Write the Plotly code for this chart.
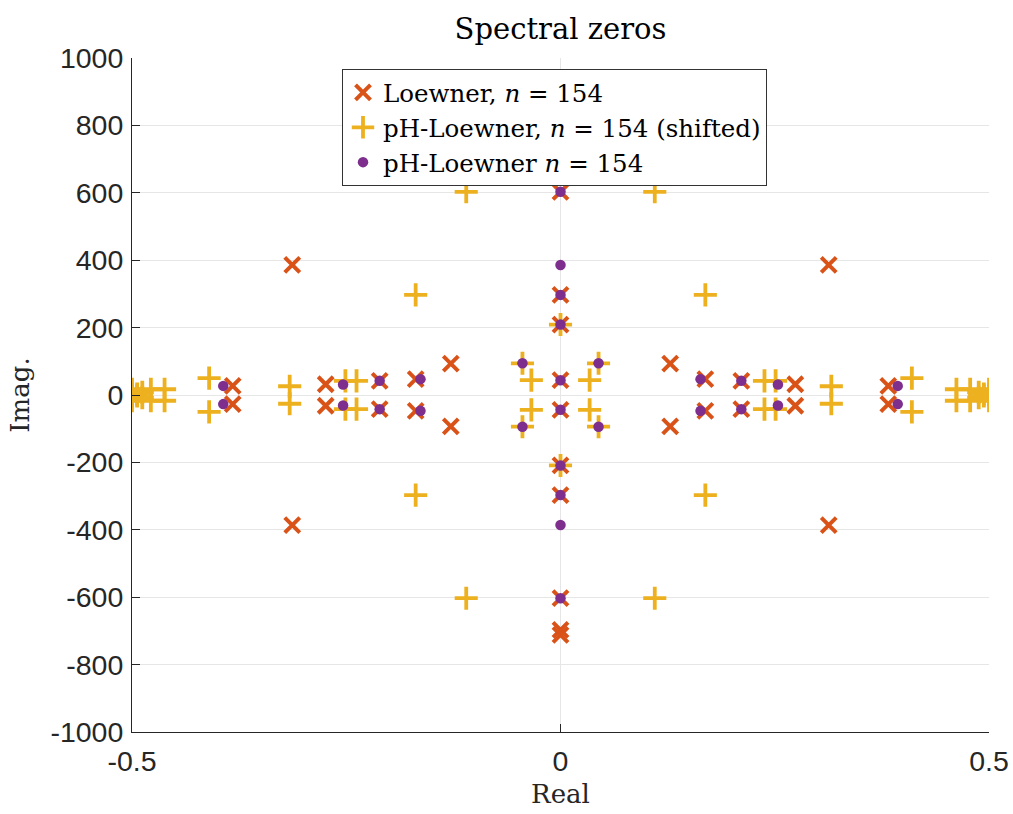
import plotly.graph_objects as go

# ---- data ----
loewner_re = [-0.313, -0.313, 0.313, 0.313,
              0, 0, 0, 0, 0, 0, 0, 0, 0, 0, 0, 0,
              -0.128, -0.128, 0.128, 0.128,
              -0.169, -0.169, 0.169, 0.169,
              -0.211, -0.211, 0.211, 0.211,
              -0.274, -0.274, 0.274, 0.274,
              -0.3825, -0.3825, 0.3825, 0.3825]
loewner_im = [386, -386, 386, -386,
              603, -603, 297, -297, 209, -209, 44, -44, 697, -697, 712, -712,
              93, -93, 93, -93,
              47, -47, 47, -47,
              42, -42, 42, -42,
              32, -32, 32, -32,
              27, -27, 27, -27]

shifted_re = [-0.110, -0.110, 0.110, 0.110,
              -0.169, -0.169, 0.169, 0.169,
              0, 0,
              -0.0444, -0.0444, 0.0444, 0.0444,
              -0.034, -0.034, 0.034, 0.034,
              -0.251, -0.251, 0.251, 0.251,
              -0.238, -0.238, 0.238, 0.238,
              -0.316, -0.316, 0.316, 0.316,
              -0.410, -0.410, 0.410, 0.410,
              -0.478, -0.478, 0.478, 0.478,
              -0.462, -0.462, 0.462, 0.462,
              -0.500, -0.500, 0.500, 0.500,
              -0.488, -0.488, 0.488, 0.488,
              -0.494, -0.494, 0.494, 0.494,
              -0.500, 0.500]
shifted_im = [603, -603, 603, -603,
              297, -297, 297, -297,
              209, -209,
              94, -94, 94, -94,
              44, -44, 44, -44,
              42, -42, 42, -42,
              42, -42, 42, -42,
              26, -26, 26, -26,
              50, -50, 50, -50,
              17, -17, 17, -17,
              17, -17, 17, -17,
              17, -17, 17, -17,
              8, -8, 8, -8,
              3, -3, 3, -3,
              0, 0]

ph_re = [0, 0, 0, 0, 0, 0, 0, 0, 0, 0,
         -0.0444, -0.0444, 0.0444, 0.0444,
         -0.1634, -0.1634, 0.1634, 0.1634,
         -0.211, -0.211, 0.211, 0.211,
         -0.2537, -0.2537, 0.2537, 0.2537,
         -0.3935, -0.3935, 0.3935, 0.3935]
ph_im = [603, -603, 386, -386, 297, -297, 209, -209, 44, -44,
         94, -94, 94, -94,
         47, -47, 47, -47,
         42, -42, 42, -42,
         31, -31, 31, -31,
         27, -27, 27, -27]

xtick_vals = [-0.5, 0, 0.5]
xtick_text = ["-0.5", "0", "0.5"]
ytick_vals = [-1000, -800, -600, -400, -200, 0, 200, 400, 600, 800, 1000]
ytick_text = ["-1000", "-800", "-600", "-400", "-200", "0", "200", "400", "600", "800", "1000"]

series_names = ["Loewner, <i>n</i> = 154",
                "pH-Loewner, <i>n</i> = 154 (shifted)",
                "pH-Loewner <i>n</i> = 154"]

C_ORANGE = "#D95319"
C_YELLOW = "#EDB120"
C_PURPLE = "#7E2F8E"
SERIF = "DejaVu Serif"
SANS = "Liberation Sans"
DARK = "#262626"

fig = go.Figure()
fig.add_trace(go.Scatter(
    x=loewner_re, y=loewner_im, mode="markers", name=series_names[0],
    marker=dict(symbol="x-thin", size=15, color=C_ORANGE,
                line=dict(width=4, color=C_ORANGE))))
fig.add_trace(go.Scatter(
    x=shifted_re, y=shifted_im, mode="markers", name=series_names[1],
    marker=dict(symbol="cross-thin", size=16.5, color=C_YELLOW,
                line=dict(width=3.8, color=C_YELLOW))))
fig.add_trace(go.Scatter(
    x=ph_re, y=ph_im, mode="markers", name=series_names[2],
    marker=dict(symbol="circle", size=10.5, color=C_PURPLE,
                line=dict(width=0))))

axis_common = dict(
    showgrid=True, gridcolor="#e6e6e6", gridwidth=1,
    zeroline=False, showline=True, linecolor=DARK, linewidth=1,
    ticks="inside", ticklen=8, tickcolor=DARK, mirror=False,
    tickfont=dict(family=SANS, size=28.5, color=DARK),
)

fig.update_layout(
    width=1013, height=814,
    margin=dict(l=132, r=24, t=58, b=82, autoexpand=False),
    paper_bgcolor="white", plot_bgcolor="white",
    title=dict(text="Spectral zeros", x=0.5533, xanchor="center",
               y=1 - 29 / 814, yref="container", yanchor="middle",
               font=dict(family=SERIF, size=29, color="black")),
    xaxis=dict(range=[-0.5, 0.5], tickvals=xtick_vals, ticktext=xtick_text,
               ticklabelstandoff=4,
               title=dict(text="Real", standoff=8,
                          font=dict(family=SERIF, size=26, color=DARK)),
               **axis_common),
    yaxis=dict(range=[-1000, 1000], tickvals=ytick_vals, ticktext=ytick_text,
               ticklabelstandoff=2,
               title=dict(text="Imag.", standoff=13,
                          font=dict(family=SERIF, size=26, color=DARK)),
               **axis_common),
    legend=dict(x=(342 - 132) / 857, y=(732 - 69) / 674, xanchor="left", yanchor="top",
                bgcolor="white", bordercolor="#333333", borderwidth=1,
                font=dict(family=SERIF, size=24.5, color="black"),
                itemsizing="trace", tracegroupgap=0),
    showlegend=True,
)

fig.write_html("out.html",
               config={"displayModeBar": False},
               post_script="document.body.style.margin='0';document.body.style.padding='0';")
